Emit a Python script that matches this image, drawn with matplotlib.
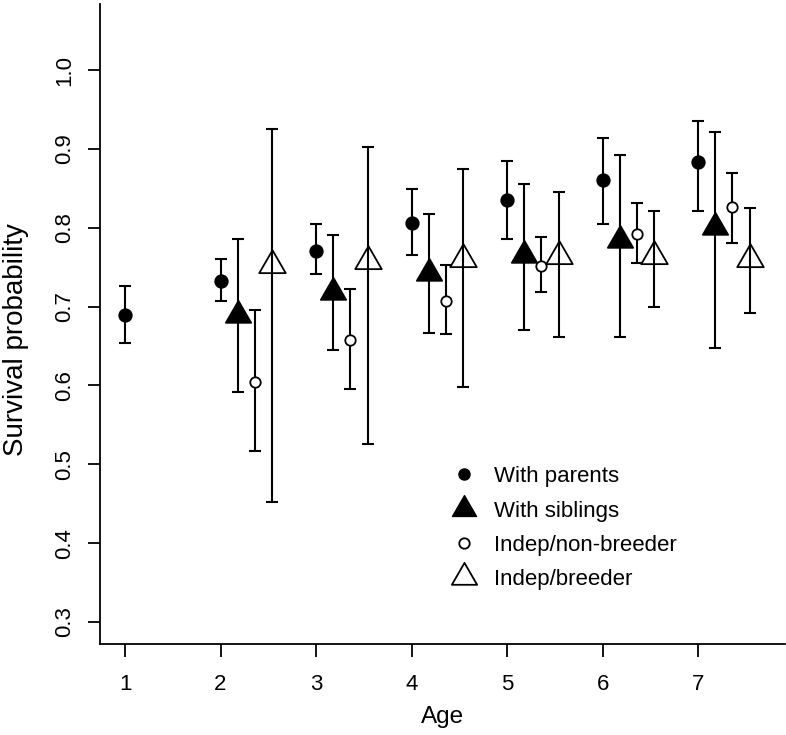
import numpy as np
import matplotlib
matplotlib.use("Agg")
import matplotlib.pyplot as plt
from matplotlib.path import Path

plt.rcParams['font.family'] = ['Liberation Sans', 'DejaVu Sans']

ages = [1, 2, 3, 4, 5, 6, 7]

# with parents (all ages)
par_est = [0.689, 0.732, 0.771, 0.806, 0.835, 0.861, 0.883]
par_lo = [0.654, 0.707, 0.741, 0.765, 0.786, 0.805, 0.821]
par_hi = [0.726, 0.761, 0.805, 0.849, 0.885, 0.914, 0.936]

# remaining groups start at age 2
ages2 = [2, 3, 4, 5, 6, 7]

sib_est = [0.690, 0.718, 0.743, 0.765, 0.784, 0.801]
sib_lo = [0.592, 0.645, 0.667, 0.670, 0.661, 0.647]
sib_hi = [0.786, 0.791, 0.817, 0.856, 0.892, 0.921]

nb_est = [0.605, 0.658, 0.707, 0.752, 0.792, 0.826]
nb_lo = [0.517, 0.596, 0.665, 0.718, 0.755, 0.781]
nb_hi = [0.696, 0.722, 0.753, 0.789, 0.831, 0.870]

br_est = [0.753, 0.758, 0.761, 0.764, 0.764, 0.761]
br_lo = [0.452, 0.526, 0.598, 0.661, 0.700, 0.692]
br_hi = [0.925, 0.902, 0.875, 0.845, 0.821, 0.825]

labels = ["With parents", "With siblings", "Indep/non-breeder", "Indep/breeder"]

# triangle centred on its centroid, like R's pch 2 / 17
tri = Path([(0, 1), (-0.866, -0.5), (0.866, -0.5), (0, 1)],
           [Path.MOVETO, Path.LINETO, Path.LINETO, Path.CLOSEPOLY])

fig = plt.figure(figsize=(7.86, 7.35), dpi=100)
ax = fig.add_axes([100 / 786, 91 / 735, 685 / 786, 640 / 735])

lw = 1.5
cap = 4.3


def draw(x, est, lo, hi, marker, ms, mfc):
    x = np.array(x, dtype=float)
    est = np.array(est)
    err = [est - np.array(lo), np.array(hi) - est]
    ax.errorbar(x, est, yerr=err, fmt='none', ecolor='black',
                elinewidth=lw, capsize=cap, capthick=lw, zorder=2)
    ax.plot(x, est, linestyle='none', marker=marker, markersize=ms,
            markerfacecolor=mfc, markeredgecolor='black',
            markeredgewidth=1.3, zorder=3)


draw(ages, par_est, par_lo, par_hi, 'o', 9, 'black')
draw(np.array(ages2) + 0.18, sib_est, sib_lo, sib_hi, tri, 21, 'black')
draw(np.array(ages2) + 0.36, nb_est, nb_lo, nb_hi, 'o', 7.5, 'white')
draw(np.array(ages2) + 0.54, br_est, br_lo, br_hi, tri, 22, 'none')

ax.set_xlim(0.738, 7.91)
ax.set_ylim(0.272, 1.084)
ax.set_xticks(ages)
ax.set_yticks([0.3, 0.4, 0.5, 0.6, 0.7, 0.8, 0.9, 1.0])
ax.set_yticklabels(["0.3", "0.4", "0.5", "0.6", "0.7", "0.8", "0.9", "1.0"],
                   rotation=90, va='center')
ax.tick_params(direction='out', length=9, width=1.3, labelsize=16)
ax.tick_params(axis='x', pad=12.5)
ax.tick_params(axis='y', pad=9)

for s in ['top', 'right']:
    ax.spines[s].set_visible(False)
for s in ['left', 'bottom']:
    ax.spines[s].set_linewidth(1.3)

ax.set_xlabel("Age", fontsize=17.5, va='center')
ax.set_ylabel("Survival probability", fontsize=20, va='center', ha='center')
ax.xaxis.set_label_coords(0.5, -0.114)
ax.yaxis.set_label_coords(-0.1226, 0.475)

# legend, no frame
handles = [
    plt.Line2D([], [], linestyle='none', marker='o', markersize=8,
               markerfacecolor='black', markeredgecolor='black'),
    plt.Line2D([], [], linestyle='none', marker=tri, markersize=20,
               markerfacecolor='black', markeredgecolor='black'),
    plt.Line2D([], [], linestyle='none', marker='o', markersize=7.5,
               markerfacecolor='white', markeredgecolor='black', markeredgewidth=1.3),
    plt.Line2D([], [], linestyle='none', marker=tri, markersize=21,
               markerfacecolor='none', markeredgecolor='black', markeredgewidth=1.3),
]
ax.legend(handles, labels, loc='upper left', bbox_to_anchor=(0.476, 0.309),
          frameon=False, fontsize=16, handletextpad=0.55, labelspacing=0.6,
          handlelength=1.6, borderpad=0.4)

fig.savefig("out.png", dpi=100)
